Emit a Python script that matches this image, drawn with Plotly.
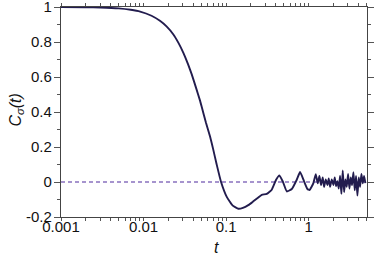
import plotly.graph_objects as go

t_vals = [0.001, 0.002, 0.003, 0.005, 0.007, 0.0091, 0.0125, 0.0158, 0.019, 0.023,
          0.0265, 0.0304, 0.0345, 0.0384, 0.0435, 0.0484, 0.0507, 0.057, 0.064, 0.07,
          0.077, 0.087, 0.102, 0.1206, 0.141, 0.16, 0.186, 0.212, 0.246, 0.271,
          0.311, 0.358, 0.404, 0.443, 0.487, 0.545, 0.626, 0.719, 0.789, 0.866,
          0.968, 1.03, 1.08, 1.144, 1.222, 1.292, 1.353, 1.417, 1.485, 1.541,
          1.615, 1.691, 1.755, 1.822, 1.909, 2.0, 2.076, 2.154, 2.236, 2.321,
          2.409, 2.5, 2.595, 2.694, 2.796, 2.901, 3.012, 3.126, 3.244, 3.367,
          3.494, 3.627, 3.764, 3.907, 4.055, 4.209, 4.369, 4.535, 4.706, 4.885]
c_vals = [1.0, 0.999, 0.997, 0.992, 0.984, 0.974, 0.95, 0.921, 0.889, 0.843,
          0.795, 0.738, 0.675, 0.615, 0.535, 0.465, 0.43, 0.34, 0.26, 0.185,
          0.10, 0.0, -0.085, -0.135, -0.153, -0.148, -0.132, -0.112, -0.088, -0.073,
          -0.068, -0.044, 0.013, 0.038, 0.003, -0.054, -0.04, 0.013, 0.057, 0.013,
          -0.04, -0.046, -0.03, -0.006, 0.045, -0.008, 0.035, -0.018, 0.026, -0.028,
          0.015, -0.018, 0.02, -0.028, 0.015, -0.018, 0.026, -0.024, 0.005, -0.037,
          0.036, -0.068, 0.066, -0.058, 0.015, -0.028, 0.046, -0.037, 0.026, -0.018,
          0.056, -0.048, 0.035, -0.078, 0.026, -0.028, 0.046, -0.008, 0.035, -0.006]

x_tickvals = [0.001, 0.01, 0.1, 1]
x_ticktext = ["0.001", "0.01", "0.1", "1"]
y_tickvals = [-0.2, 0, 0.2, 0.4, 0.6, 0.8, 1]
y_ticktext = ["-0.2", "0", "0.2", "0.4", "0.6", "0.8", "1"]

FONT = "Liberation Sans"

fig = go.Figure()
fig.add_trace(go.Scatter(x=[0.001, 5.1], y=[0, 0], mode="lines",
                         line=dict(color="#4f2a9e", width=1.2, dash="4px,3px"),
                         hoverinfo="skip"))
fig.add_trace(go.Scatter(x=t_vals, y=c_vals, mode="lines",
                         line=dict(color="#221c4e", width=1.9, shape="spline", smoothing=0.4)))

axis_common = dict(showline=True, linecolor="#444444", linewidth=1.2,
                   ticks="outside", tickcolor="#555555", mirror="ticks",
                   showgrid=False, zeroline=False, automargin=False,
                   ticklabeloverflow="allow",
                   tickfont=dict(family=FONT, size=15, color="#111111"))

fig.update_xaxes(type="log", range=[-3, 0.708], tickvals=x_tickvals, ticktext=x_ticktext,
                 ticklen=3, tickwidth=1, ticklabelstandoff=-7,
                 minor=dict(ticks="outside", ticklen=3, tickcolor="#555555", dtick="D1"),
                 **axis_common)
fig.update_yaxes(range=[-0.2, 1], tickvals=y_tickvals, ticktext=y_ticktext,
                 ticklen=6, tickwidth=1, ticklabelstandoff=-1,
                 minor=dict(ticks="outside", ticklen=3, tickcolor="#555555", dtick=0.1),
                 **axis_common)

fig.add_annotation(text="<i>t</i>", xref="paper", yref="paper", x=0.507, y=-0.143,
                   xanchor="center", yanchor="middle", showarrow=False,
                   font=dict(family=FONT, size=16, color="#111111"))
fig.add_annotation(text="<i>C<sub>σ</sub>(t)</i>", xref="paper", yref="paper",
                   x=-0.145, y=0.51, xanchor="center", yanchor="middle", textangle=-90,
                   showarrow=False, font=dict(family=FONT, size=16, color="#111111"))

fig.update_layout(width=374, height=254, margin=dict(l=61, r=7, t=7, b=37),
                  paper_bgcolor="white", plot_bgcolor="white", showlegend=False)

fig.write_html("out.html", config={"displayModeBar": False},
               post_script="document.body.style.margin='0px';")
